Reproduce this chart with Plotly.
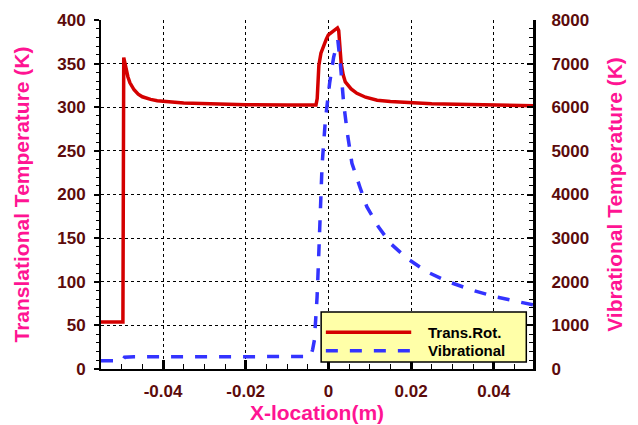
import plotly.graph_objects as go

# ---- data ----
trans_x = [-0.055, -0.0498, -0.0497, -0.0495, -0.049, -0.0485, -0.048, -0.047, -0.046, -0.045,
           -0.043, -0.0414, -0.035, -0.03, -0.02, -0.01, -0.0036, -0.003, -0.0027, -0.0025,
           -0.0023, -0.0018, -0.0011, -0.0005, 0.0, 0.001, 0.0019, 0.0022, 0.0025, 0.0027,
           0.0031, 0.0036, 0.0041, 0.0055, 0.0069, 0.009, 0.0118, 0.015, 0.0198, 0.025,
           0.031, 0.04, 0.0495]
trans_T = [54, 54, 54, 357, 345, 335, 328, 320, 315, 312,
           309, 307.5, 305, 304, 303, 302.5, 302, 302.5, 310, 335,
           348, 362, 372, 378, 383, 387, 390.5, 391, 388, 370,
           350, 337, 329, 321, 316, 311.5, 308, 306.5, 305, 304,
           303.4, 302.5, 301.8]

vib_x = [-0.055, -0.0498, -0.0493, -0.047, -0.03, -0.01, -0.0045, -0.0042, -0.0038, -0.00338,
         -0.0030, -0.00273, -0.00242, -0.0021, -0.00152, -0.00072, 0.00031, 0.00128, 0.0021, 0.0023,
         0.0029, 0.0037, 0.0046, 0.0057, 0.0076, 0.0093, 0.0121, 0.015, 0.019, 0.0238,
         0.029, 0.0347, 0.0403, 0.0464, 0.0495]
vib_T = [190, 192, 270, 282, 282, 282, 285, 320, 450, 665,
         1100, 1650, 2384, 3301, 4676, 5708, 6557, 7152, 7496, 7530,
         7007, 6090, 5400, 4715, 4179, 3720, 3262, 2881, 2537, 2230,
         2001, 1811, 1657, 1520, 1470]

series_names = ["Trans.Rot.", "Vibrational"]
series_colors = ["#d40000", "#3333ff"]
series_dash = ["solid", "12px,12px"]

x_tickvals = [-0.04, -0.02, 0, 0.02, 0.04]
x_ticktext = ["-0.04", "-0.02", "0", "0.02", "0.04"]

TICK_COLOR = "#5c0b0b"
TITLE_COLOR = "#ff1493"
FONT = "Arial, Liberation Sans, sans-serif"

fig = go.Figure()
fig.add_trace(go.Scatter(x=trans_x, y=trans_T, mode="lines", name=series_names[0],
                         line=dict(color=series_colors[0], width=3.5, dash=series_dash[0]),
                         yaxis="y", showlegend=False))
fig.add_trace(go.Scatter(x=vib_x, y=vib_T, mode="lines", name=series_names[1],
                         line=dict(color=series_colors[1], width=3.5, dash=series_dash[1]),
                         yaxis="y2", showlegend=False))

tickfont = dict(family=FONT, size=17, color=TICK_COLOR, weight="bold")
titlefont = dict(family=FONT, size=21, color=TITLE_COLOR, weight="bold")

# ---- legend box (drawn in paper coordinates) ----
shapes = [dict(type="rect", xref="paper", yref="paper", x0=0.5096, x1=0.9845, y0=0.02, y1=0.1633,
               fillcolor="#ffffa8", line=dict(color="black", width=1.5), layer="above")]
annotations = []
legend_rows_y = [0.1052, 0.0524]
for name, color, dash, yy in zip(series_names, series_colors, series_dash, legend_rows_y):
    shapes.append(dict(type="line", xref="paper", yref="paper", x0=0.5205, x1=0.7181, y0=yy, y1=yy,
                       line=dict(color=color, width=3.5, dash=dash), layer="above"))
    annotations.append(dict(xref="paper", yref="paper", x=0.7528, y=yy, xanchor="left", yanchor="middle",
                            text=name, showarrow=False,
                            font=dict(family=FONT, size=15, color="black", weight="bold")))

# the page body adds an 8px offset, so the figure is sized to fill the window exactly
fig.update_layout(
    width=630, height=417,
    margin=dict(l=93, r=105, t=12, b=56, autoexpand=False),
    paper_bgcolor="white", plot_bgcolor="white",
    font=dict(family=FONT),
    showlegend=False,
    shapes=shapes, annotations=annotations,
    xaxis=dict(range=[-0.055, 0.0495], tickmode="array", tickvals=x_tickvals, ticktext=x_ticktext,
               ticks="inside", ticklen=9, tickwidth=3, tickcolor="black",
               minor=dict(tickmode="linear", tick0=0, dtick=0.005, ticks="inside", ticklen=5,
                          tickwidth=1, tickcolor="black", showgrid=False),
               showgrid=True, gridcolor="black", griddash="dot", gridwidth=1,
               showline=True, linecolor="black", linewidth=2, zeroline=False, automargin=False,
               tickfont=tickfont, ticklabelstandoff=6,
               title=dict(text="X-location(m)", font=titlefont, standoff=5)),
    yaxis=dict(range=[0, 400], dtick=50, tick0=0,
               ticks="outside", ticklen=5, tickwidth=2, tickcolor="black",
               minor=dict(dtick=10, ticks="outside", ticklen=3, tickwidth=1,
                          tickcolor="black", showgrid=False),
               showgrid=True, gridcolor="black", griddash="dot", gridwidth=1,
               showline=True, linecolor="black", linewidth=2, zeroline=False, automargin=False,
               tickfont=tickfont, ticklabelstandoff=5,
               title=dict(text="Translational Temperature (K)", font=titlefont, standoff=22)),
    yaxis2=dict(range=[0, 8000], dtick=1000, tick0=0, overlaying="y", side="right",
                ticks="inside", ticklen=6, tickwidth=2, tickcolor="black",
                minor=dict(dtick=200, ticks="inside", ticklen=4, tickwidth=1,
                           tickcolor="black", showgrid=False),
                showgrid=False, showline=True, linecolor="black", linewidth=3, zeroline=False,
                automargin=False,
                tickfont=tickfont, ticklabelstandoff=12,
                title=dict(text="Vibrational Temperature (K)", font=titlefont, standoff=20)),
)

fig.write_html("out.html")
